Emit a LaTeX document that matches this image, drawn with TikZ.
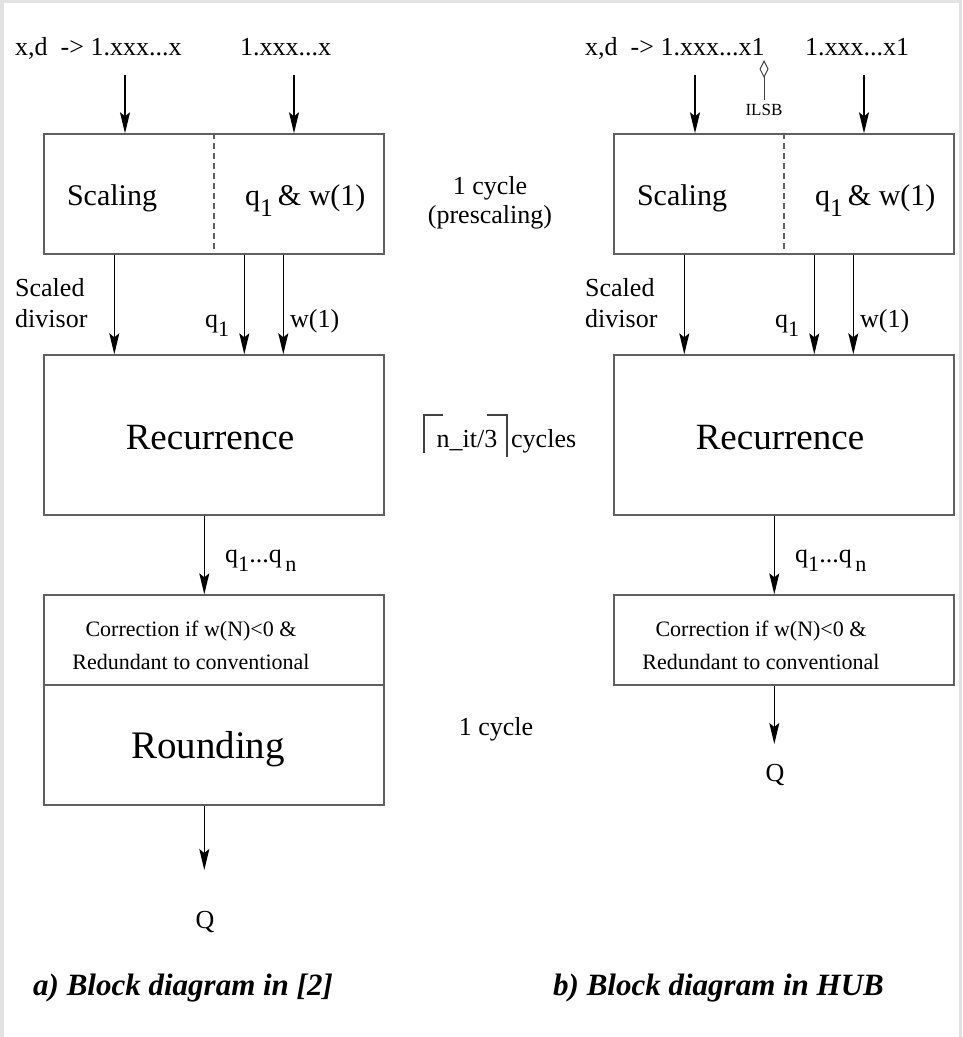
\documentclass[tikz,border=0pt]{standalone}
\usepackage{fontspec}
\setmainfont{Liberation Serif}
\usetikzlibrary{arrows.meta}
\definecolor{boxline}{HTML}{606060}
\definecolor{frame}{HTML}{E2E2E2}
% lowered subscript digit
\newcommand\lowsub[1]{\raisebox{-0.38em}{\scalebox{0.85}{#1}}}
\begin{document}
\begin{tikzpicture}[x=1pt,y=-1pt,
  box/.style={draw=boxline, line width=1.4pt, minimum width=340pt, inner sep=0pt},
  arr/.style={-{Stealth[length=21pt,width=10pt,inset=4pt]}, line width=1.2pt, draw=black, fill=black},
  divider/.style={boxline, line width=1.1pt, dash pattern=on 6pt off 4pt},
  txt/.style={inner sep=0pt, anchor=base, font=\fontsize{26}{30}\selectfont},
  txtw/.style={txt, anchor=base west},
  big/.style={txt, font=\fontsize{30}{34}\selectfont},
  huge/.style={txt, font=\fontsize{37}{42}\selectfont},
  small/.style={txt, font=\fontsize{22}{26}\selectfont},
  caption/.style={inner sep=0pt, anchor=base west, font=\fontsize{31}{36}\selectfont\bfseries\itshape}]
\useasboundingbox (0,0) rectangle (962,1037);
\fill[frame] (0,0) rectangle (962,1037);
\fill[white] (4,3) rectangle (959,1037);

% ---------------- a) left diagram ----------------
\node[txtw] (inA1) at (15,55) {x,d\ \ -> 1.xxx...x};
\node[txtw] (inA2) at (240,55) {1.xxx...x};
\node[box, minimum height=120pt] (sclA) at (214,194) {};
\node[box, minimum height=160pt] (recA) at (214,435) {};
\node[box, minimum height=90pt]  (corA) at (214,640) {};
\node[box, minimum height=120pt] (rndA) at (214,745) {};
\draw[divider] (sclA.north) -- (sclA.south);

\node[big] (scA) at (112,205) {Scaling};
\node[big, anchor=base west] (qwA) at (245,205) {q\lowsub{1}\,\& w(1)};
\node[huge] (rcA) at (210,449) {Recurrence};
\node[small] (c1A) at (191,636) {Correction if w(N)<0 \&};
\node[small] (c2A) at (191,669) {Redundant to conventional};
\node[txt, font=\fontsize{39}{44}\selectfont] (rdA) at (208,758) {Rounding};

\coordinate (tA1) at (125,75);
\coordinate (tA2) at (294,75);
\draw[arr] (tA1) -- (tA1 |- sclA.north);
\draw[arr] (tA2) -- (tA2 |- sclA.north);

\path (sclA.south west) ++(71,0) coordinate (dA)
      (sclA.south west) ++(201,0) coordinate (qA)
      (sclA.south west) ++(240,0) coordinate (wA);
\draw[arr] (dA) -- (dA |- recA.north);
\draw[arr] (qA) -- (qA |- recA.north);
\draw[arr] (wA) -- (wA |- recA.north);
\node[txtw] (sdA1) at (15,296) {Scaled};
\node[txtw] (sdA2) at (15,327) {divisor};
\node[txtw] (lqA) at (205,327) {q\lowsub{1}};
\node[txtw] (lwA) at (290,327) {w(1)};

\path (recA.south west) ++(161,0) coordinate (oA);
\draw[arr] (oA) -- (oA |- corA.north);
\node[txtw] (qnA) at (225,562) {q\lowsub{1}...q\lowsub{\,n}};

\path (rndA.south west) ++(161,0) coordinate (fA);
\draw[arr] (fA) -- (fA |- 0,870);
\node[txt] (QA) at (205,928) {Q};

\node[caption] (capA) at (33,995) {a) Block diagram in [2]};

% ---------------- timing notes ----------------
\node[txt] (cy1) at (490,194) {1 cycle};
\node[txt] (cy1b) at (490,223) {(prescaling)};
\node[txt] (nit) at (467,447) {n\_it/3};
\draw[line width=1.1pt, draw=black!75] (424,453) -- (424,415) -- (443,415);
\draw[line width=1.1pt, draw=black!75] (487,415) -- (507,415) -- (507,457);
\node[txtw] (cyc) at (511,447) {cycles};
\node[txt] (cy2) at (496,735) {1 cycle};

% ---------------- b) right diagram ----------------
\node[txtw] (inB1) at (585,55) {x,d\ \ -> 1.xxx...x1};
\node[txtw] (inB2) at (805,55) {1.xxx...x1};
\node[inner sep=0pt, anchor=base, font=\fontsize{17}{20}\selectfont] (ilsb) at (764,115) {ILSB};
\draw[line width=1pt, draw=black!75, -{Diamond[open,length=18pt,width=9pt]}]
  ([yshift=4pt]ilsb.north) -- (ilsb.north |- 0,60);

\node[box, minimum height=120pt] (sclB) at (784,194) {};
\node[box, minimum height=160pt] (recB) at (784,435) {};
\node[box, minimum height=90pt]  (corB) at (784,640) {};
\draw[divider] (sclB.north) -- (sclB.south);

\node[big] (scB) at (682,205) {Scaling};
\node[big, anchor=base west] (qwB) at (815,205) {q\lowsub{1}\,\& w(1)};
\node[huge] (rcB) at (780,449) {Recurrence};
\node[small] (c1B) at (761,636) {Correction if w(N)<0 \&};
\node[small] (c2B) at (761,669) {Redundant to conventional};

\coordinate (tB1) at (695,75);
\coordinate (tB2) at (864,75);
\draw[arr] (tB1) -- (tB1 |- sclB.north);
\draw[arr] (tB2) -- (tB2 |- sclB.north);

\path (sclB.south west) ++(71,0) coordinate (dB)
      (sclB.south west) ++(201,0) coordinate (qB)
      (sclB.south west) ++(240,0) coordinate (wB);
\draw[arr] (dB) -- (dB |- recB.north);
\draw[arr] (qB) -- (qB |- recB.north);
\draw[arr] (wB) -- (wB |- recB.north);
\node[txtw] (sdB1) at (585,296) {Scaled};
\node[txtw] (sdB2) at (585,327) {divisor};
\node[txtw] (lqB) at (775,327) {q\lowsub{1}};
\node[txtw] (lwB) at (860,327) {w(1)};

\path (recB.south west) ++(161,0) coordinate (oB);
\draw[arr] (oB) -- (oB |- corB.north);
\node[txtw] (qnB) at (795,562) {q\lowsub{1}...q\lowsub{\,n}};

\path (corB.south west) ++(161,0) coordinate (fB);
\draw[arr] (fB) -- (fB |- 0,744);
\node[txt] (QB) at (775,781) {Q};

\node[caption] (capB) at (553,995) {b) Block diagram in HUB};
\end{tikzpicture}
\end{document}
